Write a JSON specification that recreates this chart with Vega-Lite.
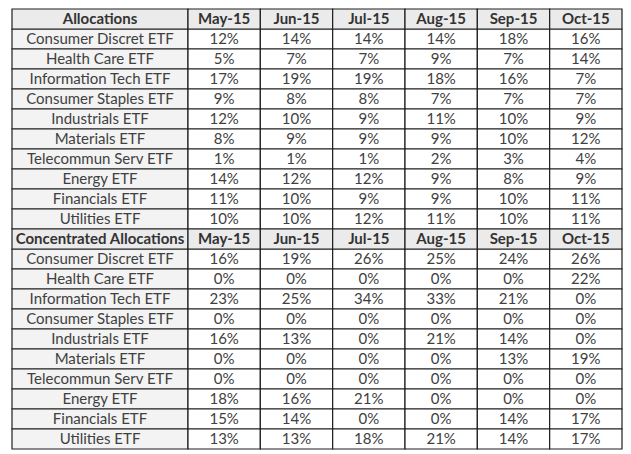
{
  "$schema": "https://vega.github.io/schema/vega-lite/v6.json",
  "padding": {"left": 11, "top": 8, "right": 0, "bottom": 0},
  "autosize": {"type": "pad"},
  "bounds": "flush",
  "spacing": 0,
  "columns": 2,
  "background": "white",
  "config": {
    "view": {"stroke": null},
    "concat": {"spacing": 0},
    "text": {"font": "Lato", "fontSize": 15, "color": "#404040"}
  },
  "datasets": {
    "tbl": [
      {"section": "Allocations", "sector": "Consumer Discret ETF", "May-15": 0.12, "Jun-15": 0.14, "Jul-15": 0.14, "Aug-15": 0.14, "Sep-15": 0.18, "Oct-15": 0.16},
      {"section": "Allocations", "sector": "Health Care ETF", "May-15": 0.05, "Jun-15": 0.07, "Jul-15": 0.07, "Aug-15": 0.09, "Sep-15": 0.07, "Oct-15": 0.14},
      {"section": "Allocations", "sector": "Information Tech ETF", "May-15": 0.17, "Jun-15": 0.19, "Jul-15": 0.19, "Aug-15": 0.18, "Sep-15": 0.16, "Oct-15": 0.07},
      {"section": "Allocations", "sector": "Consumer Staples ETF", "May-15": 0.09, "Jun-15": 0.08, "Jul-15": 0.08, "Aug-15": 0.07, "Sep-15": 0.07, "Oct-15": 0.07},
      {"section": "Allocations", "sector": "Industrials ETF", "May-15": 0.12, "Jun-15": 0.10, "Jul-15": 0.09, "Aug-15": 0.11, "Sep-15": 0.10, "Oct-15": 0.09},
      {"section": "Allocations", "sector": "Materials ETF", "May-15": 0.08, "Jun-15": 0.09, "Jul-15": 0.09, "Aug-15": 0.09, "Sep-15": 0.10, "Oct-15": 0.12},
      {"section": "Allocations", "sector": "Telecommun Serv ETF", "May-15": 0.01, "Jun-15": 0.01, "Jul-15": 0.01, "Aug-15": 0.02, "Sep-15": 0.03, "Oct-15": 0.04},
      {"section": "Allocations", "sector": "Energy ETF", "May-15": 0.14, "Jun-15": 0.12, "Jul-15": 0.12, "Aug-15": 0.09, "Sep-15": 0.08, "Oct-15": 0.09},
      {"section": "Allocations", "sector": "Financials ETF", "May-15": 0.11, "Jun-15": 0.10, "Jul-15": 0.09, "Aug-15": 0.09, "Sep-15": 0.10, "Oct-15": 0.11},
      {"section": "Allocations", "sector": "Utilities ETF", "May-15": 0.10, "Jun-15": 0.10, "Jul-15": 0.12, "Aug-15": 0.11, "Sep-15": 0.10, "Oct-15": 0.11},
      {"section": "Concentrated Allocations", "sector": "Consumer Discret ETF", "May-15": 0.16, "Jun-15": 0.19, "Jul-15": 0.26, "Aug-15": 0.25, "Sep-15": 0.24, "Oct-15": 0.26},
      {"section": "Concentrated Allocations", "sector": "Health Care ETF", "May-15": 0, "Jun-15": 0, "Jul-15": 0, "Aug-15": 0, "Sep-15": 0, "Oct-15": 0.22},
      {"section": "Concentrated Allocations", "sector": "Information Tech ETF", "May-15": 0.23, "Jun-15": 0.25, "Jul-15": 0.34, "Aug-15": 0.33, "Sep-15": 0.21, "Oct-15": 0},
      {"section": "Concentrated Allocations", "sector": "Consumer Staples ETF", "May-15": 0, "Jun-15": 0, "Jul-15": 0, "Aug-15": 0, "Sep-15": 0, "Oct-15": 0},
      {"section": "Concentrated Allocations", "sector": "Industrials ETF", "May-15": 0.16, "Jun-15": 0.13, "Jul-15": 0, "Aug-15": 0.21, "Sep-15": 0.14, "Oct-15": 0},
      {"section": "Concentrated Allocations", "sector": "Materials ETF", "May-15": 0, "Jun-15": 0, "Jul-15": 0, "Aug-15": 0, "Sep-15": 0.13, "Oct-15": 0.19},
      {"section": "Concentrated Allocations", "sector": "Telecommun Serv ETF", "May-15": 0, "Jun-15": 0, "Jul-15": 0, "Aug-15": 0, "Sep-15": 0, "Oct-15": 0},
      {"section": "Concentrated Allocations", "sector": "Energy ETF", "May-15": 0.18, "Jun-15": 0.16, "Jul-15": 0.21, "Aug-15": 0, "Sep-15": 0, "Oct-15": 0},
      {"section": "Concentrated Allocations", "sector": "Financials ETF", "May-15": 0.15, "Jun-15": 0.14, "Jul-15": 0, "Aug-15": 0, "Sep-15": 0.14, "Oct-15": 0.17},
      {"section": "Concentrated Allocations", "sector": "Utilities ETF", "May-15": 0.13, "Jun-15": 0.13, "Jul-15": 0.18, "Aug-15": 0.21, "Sep-15": 0.14, "Oct-15": 0.17}
    ]
  },
  "concat": [
    {
      "width": 176, "height": 220,
      "data": {"name": "tbl"},
      "transform": [{"filter": "datum.section === 'Allocations'"}],
      "encoding": {"y": {"field": "sector", "type": "nominal", "axis": null,
        "scale": {"domain": ["Allocations", "Consumer Discret ETF", "Health Care ETF", "Information Tech ETF", "Consumer Staples ETF", "Industrials ETF", "Materials ETF", "Telecommun Serv ETF", "Energy ETF", "Financials ETF", "Utilities ETF"], "paddingInner": 0, "paddingOuter": 0}}},
      "layer": [
        {"mark": {"type": "rect", "fill": "#f3f3f3", "stroke": "#1e1e1e", "strokeWidth": 1.2}},
        {"mark": {"type": "text"}, "encoding": {"text": {"field": "sector"}}},
        {"transform": [{"aggregate": [{"op": "count", "as": "n"}]}], "mark": {"type": "rect", "fill": "#ebebeb", "stroke": "#1e1e1e", "strokeWidth": 1.2}, "encoding": {"y": {"datum": "Allocations"}}},
        {"transform": [{"aggregate": [{"op": "count", "as": "n"}]}], "mark": {"type": "text", "fontWeight": "bold", "color": "#333333"}, "encoding": {"y": {"datum": "Allocations"}, "text": {"datum": "Allocations"}}}
      ]
    },
    {
      "width": 434, "height": 220,
      "data": {"name": "tbl"},
      "transform": [{"filter": "datum.section === 'Allocations'"}, {"fold": ["May-15", "Jun-15", "Jul-15", "Aug-15", "Sep-15", "Oct-15"], "as": ["month", "pct"]}],
      "encoding": {
        "x": {"field": "month", "type": "nominal", "axis": null, "scale": {"domain": ["May-15", "Jun-15", "Jul-15", "Aug-15", "Sep-15", "Oct-15"], "paddingInner": 0, "paddingOuter": 0}},
        "y": {"field": "sector", "type": "nominal", "axis": null,
          "scale": {"domain": ["Allocations", "Consumer Discret ETF", "Health Care ETF", "Information Tech ETF", "Consumer Staples ETF", "Industrials ETF", "Materials ETF", "Telecommun Serv ETF", "Energy ETF", "Financials ETF", "Utilities ETF"], "paddingInner": 0, "paddingOuter": 0}}
      },
      "layer": [
        {"mark": {"type": "rect", "fill": "#ffffff", "stroke": "#1e1e1e", "strokeWidth": 1.2}},
        {"mark": {"type": "text"}, "encoding": {"text": {"field": "pct", "type": "quantitative", "format": ".0%"}}},
        {"transform": [{"aggregate": [{"op": "count", "as": "n"}], "groupby": ["month"]}], "mark": {"type": "rect", "fill": "#ebebeb", "stroke": "#1e1e1e", "strokeWidth": 1.2}, "encoding": {"y": {"datum": "Allocations"}}},
        {"transform": [{"aggregate": [{"op": "count", "as": "n"}], "groupby": ["month"]}], "mark": {"type": "text", "fontWeight": "bold", "color": "#333333"}, "encoding": {"y": {"datum": "Allocations"}, "text": {"field": "month"}}}
      ]
    },
    {
      "width": 176, "height": 220,
      "data": {"name": "tbl"},
      "transform": [{"filter": "datum.section === 'Concentrated Allocations'"}],
      "encoding": {"y": {"field": "sector", "type": "nominal", "axis": null,
        "scale": {"domain": ["Concentrated Allocations", "Consumer Discret ETF", "Health Care ETF", "Information Tech ETF", "Consumer Staples ETF", "Industrials ETF", "Materials ETF", "Telecommun Serv ETF", "Energy ETF", "Financials ETF", "Utilities ETF"], "paddingInner": 0, "paddingOuter": 0}}},
      "layer": [
        {"mark": {"type": "rect", "fill": "#f3f3f3", "stroke": "#1e1e1e", "strokeWidth": 1.2}},
        {"mark": {"type": "text"}, "encoding": {"text": {"field": "sector"}}},
        {"transform": [{"aggregate": [{"op": "count", "as": "n"}]}], "mark": {"type": "rect", "fill": "#ebebeb", "stroke": "#1e1e1e", "strokeWidth": 1.2}, "encoding": {"y": {"datum": "Concentrated Allocations"}}},
        {"transform": [{"aggregate": [{"op": "count", "as": "n"}]}], "mark": {"type": "text", "fontWeight": "bold", "color": "#333333"}, "encoding": {"y": {"datum": "Concentrated Allocations"}, "text": {"datum": "Concentrated Allocations"}}}
      ]
    },
    {
      "width": 434, "height": 220,
      "data": {"name": "tbl"},
      "transform": [{"filter": "datum.section === 'Concentrated Allocations'"}, {"fold": ["May-15", "Jun-15", "Jul-15", "Aug-15", "Sep-15", "Oct-15"], "as": ["month", "pct"]}],
      "encoding": {
        "x": {"field": "month", "type": "nominal", "axis": null, "scale": {"domain": ["May-15", "Jun-15", "Jul-15", "Aug-15", "Sep-15", "Oct-15"], "paddingInner": 0, "paddingOuter": 0}},
        "y": {"field": "sector", "type": "nominal", "axis": null,
          "scale": {"domain": ["Concentrated Allocations", "Consumer Discret ETF", "Health Care ETF", "Information Tech ETF", "Consumer Staples ETF", "Industrials ETF", "Materials ETF", "Telecommun Serv ETF", "Energy ETF", "Financials ETF", "Utilities ETF"], "paddingInner": 0, "paddingOuter": 0}}
      },
      "layer": [
        {"mark": {"type": "rect", "fill": "#ffffff", "stroke": "#1e1e1e", "strokeWidth": 1.2}},
        {"mark": {"type": "text"}, "encoding": {"text": {"field": "pct", "type": "quantitative", "format": ".0%"}}},
        {"transform": [{"aggregate": [{"op": "count", "as": "n"}], "groupby": ["month"]}], "mark": {"type": "rect", "fill": "#ebebeb", "stroke": "#1e1e1e", "strokeWidth": 1.2}, "encoding": {"y": {"datum": "Concentrated Allocations"}}},
        {"transform": [{"aggregate": [{"op": "count", "as": "n"}], "groupby": ["month"]}], "mark": {"type": "text", "fontWeight": "bold", "color": "#333333"}, "encoding": {"y": {"datum": "Concentrated Allocations"}, "text": {"field": "month"}}}
      ]
    }
  ]
}
